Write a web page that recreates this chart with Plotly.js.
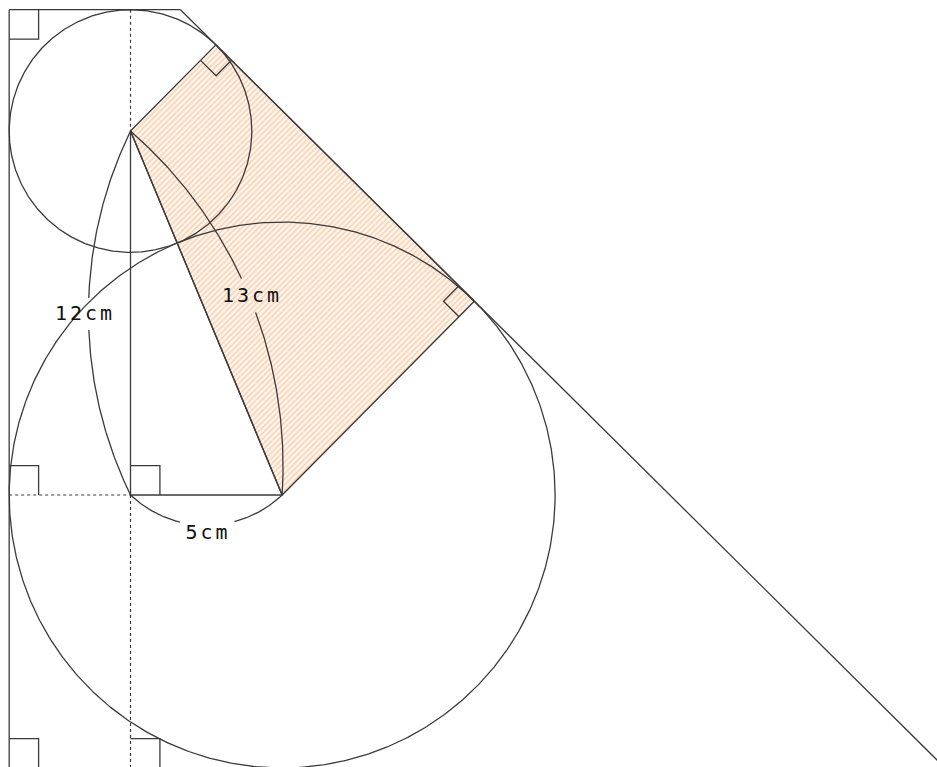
<!DOCTYPE html>
<html>
<head>
<meta charset="utf-8">
<script src="https://cdn.plot.ly/plotly-3.0.1.min.js"></script>
<style>
html,body{margin:0;padding:0;background:#fff;}
#chart .annotation-text{letter-spacing:3px;}
</style>
</head>
<body>
<div id="chart" style="width:937px;height:767px;"></div>
<script>
// Data (cm)
const sideLabels = ['12cm', '5cm', '13cm'];
const verticalLeg = 12;    // A above right-angle vertex C
const horizontalLeg = 5;   // B to the right of C
const circleRadii = [4, 9]; // small circle around A, big circle around B

// ---- geometry built from the values above ----
const C = [0, 0];
const A = [0, verticalLeg];
const B = [horizontalLeg, 0];
const r1 = circleRadii[0], r2 = circleRadii[1];
const leftX = A[0] - r1;          // common tangent x = -4
const topY = A[1] + r1;           // top tangent y = 16
const bottomY = B[1] - r2;        // bottom tangent y = -9

function sub(p, q) { return [p[0] - q[0], p[1] - q[1]]; }
function add(p, q) { return [p[0] + q[0], p[1] + q[1]]; }
function mul(p, k) { return [p[0] * k, p[1] * k]; }
function unit(p) { const l = Math.hypot(p[0], p[1]); return [p[0] / l, p[1] / l]; }
function dot(p, q) { return p[0] * q[0] + p[1] * q[1]; }

// reflect point P across line AB
const dAB = unit(sub(B, A));
function reflect(P) {
  const v = sub(P, A);
  const proj = mul(dAB, dot(v, dAB));
  return add(A, sub(mul(proj, 2), v));
}
const T1 = reflect([leftX, A[1]]);
const T2 = reflect([leftX, B[1]]);
const dT = unit(sub(T2, T1));
const tTop = (topY - T1[1]) / dT[1];
const Ptop = add(T1, mul(dT, tTop));
const tBot = (-12 - T1[1]) / dT[1];
const Pbot = add(T1, mul(dT, tBot));

function circle(c, r) {
  const xs = [], ys = [];
  for (let i = 0; i <= 720; i++) {
    const a = i / 720 * 2 * Math.PI;
    xs.push(c[0] + r * Math.cos(a)); ys.push(c[1] + r * Math.sin(a));
  }
  return { xs, ys };
}

function arc(P, Q, sag, normal, t0, t1) {
  const M = mul(add(P, Q), 0.5);
  const c = Math.hypot(Q[0] - P[0], Q[1] - P[1]) / 2;
  const R = (c * c + sag * sag) / (2 * sag);
  const n = unit(normal);
  const O = sub(M, mul(n, R - sag));
  const aP = Math.atan2(P[1] - O[1], P[0] - O[0]);
  let aQ = Math.atan2(Q[1] - O[1], Q[0] - O[0]);
  let d = aQ - aP;
  while (d > Math.PI) d -= 2 * Math.PI;
  while (d < -Math.PI) d += 2 * Math.PI;
  const xs = [], ys = [];
  for (let i = 0; i <= 100; i++) {
    const t = t0 + (t1 - t0) * i / 100;
    const a = aP + d * t;
    xs.push(O[0] + R * Math.cos(a)); ys.push(O[1] + R * Math.sin(a));
  }
  return { xs, ys };
}

const lineCol = '#3a3a3a';
const traces = [];
function seg(pts, dash, width) {
  traces.push({
    type: 'scatter', mode: 'lines',
    x: pts.map(p => p[0]), y: pts.map(p => p[1]),
    line: { color: lineCol, width: width || 1.3, dash: dash || 'solid' },
    hoverinfo: 'skip'
  });
}
function curve(o) {
  traces.push({ type: 'scatter', mode: 'lines', x: o.xs, y: o.ys,
    line: { color: lineCol, width: 1.3 }, hoverinfo: 'skip' });
}

// shaded quadrilateral A-T1-T2-B
traces.push({
  type: 'scatter', mode: 'lines',
  x: [A[0], T1[0], T2[0], B[0], A[0]],
  y: [A[1], T1[1], T2[1], B[1], A[1]],
  fill: 'toself',
  fillcolor: '#fdf0e6',
  fillpattern: { shape: '/', size: 4, solidity: 0.4, fgcolor: '#f9d2b2', bgcolor: '#fff6ef', fillmode: 'replace' },
  line: { color: lineCol, width: 1.3 },
  hoverinfo: 'skip'
});

// circles
curve(circle(A, r1));
curve(circle(B, r2));

// outer lines
seg([[leftX, topY], [leftX, -12]]);
seg([[leftX, topY], Ptop]);
seg([Ptop, Pbot]);

// triangle
seg([A, C]);
seg([C, B]);
seg([A, B]);

// dashed lines
seg([[0, topY], A], '3px,3px', 1.2);
seg([C, [0, -12]], '3px,3px', 1.2);
seg([[leftX, 0], C], '3px,3px', 1.2);

// right-angle marks
const m = 0.97;
function sq(V, u, w, s) {
  seg([add(V, mul(u, s)), add(add(V, mul(u, s)), mul(w, s)), add(V, mul(w, s))]);
}
sq([leftX, topY], [1, 0], [0, -1], m);
sq([leftX, 0], [1, 0], [0, 1], m);
sq(C, [1, 0], [0, 1], m);
sq([leftX, bottomY], [1, 0], [0, 1], m);
sq([0, bottomY], [1, 0], [0, 1], m);
const mt = 0.72;
sq(T1, unit(sub(A, T1)), dT, mt);
sq(T2, unit(sub(B, T2)), mul(dT, -1), mt);

// dimension arcs with gaps for labels
curve(arc(A, C, 1.385, [-1, 0], 0, 0.46));
curve(arc(A, C, 1.385, [-1, 0], 0.545, 1));
const nAB = [-dAB[1], dAB[0]];
const nUp = nAB[0] > 0 ? nAB : mul(nAB, -1);
curve(arc(A, B, 1.52, nUp, 0, 0.455));
curve(arc(A, B, 1.52, nUp, 0.545, 1));
curve(arc(C, B, 1.0, [0, -1], 0, 0.34));
curve(arc(C, B, 1.0, [0, -1], 0.67, 1));

// pixel scale
const S = 30.33, ox = 130.5, oy = 495, W = 937, H = 767;
const xr = [-ox / S, (W - ox) / S];
const yr = [-(H - oy) / S, oy / S];

const font = { family: 'DejaVu Sans Mono, monospace', size: 20, color: '#111' };
const annotations = [
  { x: -1.484, y: 6.0, text: sideLabels[0] },
  { x: 2.54, y: -1.22, text: sideLabels[1] },
  { x: 3.99, y: 6.59, text: sideLabels[2] }
].map(a => Object.assign({ xref: 'x', yref: 'y', showarrow: false, font: font, xanchor: 'center', yanchor: 'middle' }, a));

const layout = {
  width: W, height: H,
  margin: { l: 0, r: 0, t: 0, b: 0 },
  paper_bgcolor: '#ffffff', plot_bgcolor: '#ffffff',
  showlegend: false,
  xaxis: { range: xr, visible: false, showgrid: false, zeroline: false, fixedrange: true },
  yaxis: { range: yr, visible: false, showgrid: false, zeroline: false, fixedrange: true },
  annotations: annotations
};
Plotly.newPlot('chart', traces, layout, { displayModeBar: false, staticPlot: true });
</script>
</body>
</html>
